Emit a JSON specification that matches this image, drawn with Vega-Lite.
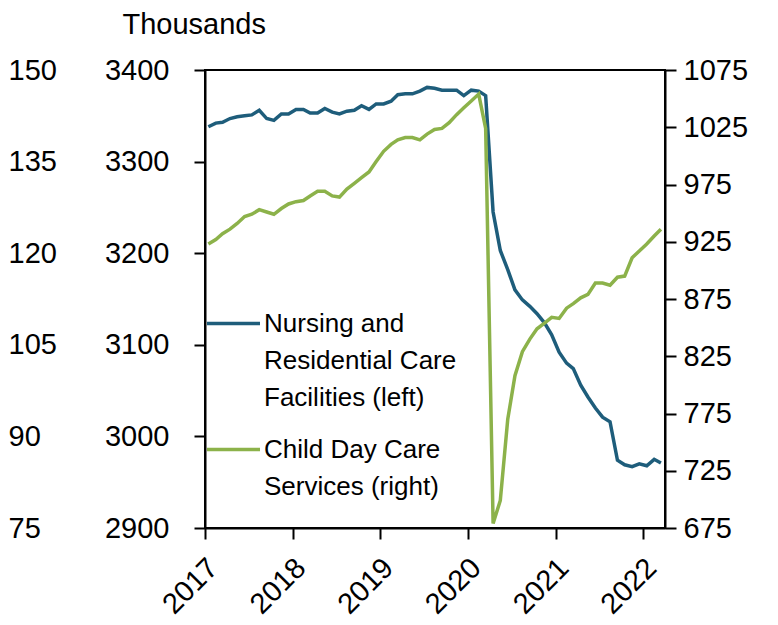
{
  "$schema": "https://vega.github.io/schema/vega-lite/v6.json",
  "width": 460,
  "height": 458,
  "autosize": {"type": "none"},
  "padding": {"left": 205, "top": 70, "right": 113, "bottom": 97},
  "background": "white",
  "config": {
    "font": "Liberation Sans",
    "view": {"stroke": "black", "strokeWidth": 2},
    "axis": {
      "labelFont": "Liberation Sans",
      "labelFontSize": 29,
      "labelColor": "black",
      "domainColor": "black",
      "tickColor": "black",
      "domainWidth": 2,
      "tickWidth": 2,
      "tickSize": 11,
      "grid": false,
      "labelOverlap": false,
      "labelFlush": false
    }
  },
  "data": {
    "values": [
      {"date": "2017-01-15", "nursing": 3338, "childcare": 923},
      {"date": "2017-02-15", "nursing": 3342, "childcare": 927},
      {"date": "2017-03-15", "nursing": 3343, "childcare": 932},
      {"date": "2017-04-15", "nursing": 3347, "childcare": 936},
      {"date": "2017-05-15", "nursing": 3349, "childcare": 941},
      {"date": "2017-06-15", "nursing": 3350, "childcare": 947},
      {"date": "2017-07-15", "nursing": 3351, "childcare": 949},
      {"date": "2017-08-15", "nursing": 3356, "childcare": 953},
      {"date": "2017-09-15", "nursing": 3347, "childcare": 951},
      {"date": "2017-10-15", "nursing": 3345, "childcare": 949},
      {"date": "2017-11-15", "nursing": 3352, "childcare": 954},
      {"date": "2017-12-15", "nursing": 3352, "childcare": 958},
      {"date": "2018-01-15", "nursing": 3357, "childcare": 960},
      {"date": "2018-02-15", "nursing": 3357, "childcare": 961},
      {"date": "2018-03-15", "nursing": 3353, "childcare": 965},
      {"date": "2018-04-15", "nursing": 3353, "childcare": 969},
      {"date": "2018-05-15", "nursing": 3358, "childcare": 969},
      {"date": "2018-06-15", "nursing": 3354, "childcare": 965},
      {"date": "2018-07-15", "nursing": 3352, "childcare": 964},
      {"date": "2018-08-15", "nursing": 3355, "childcare": 971},
      {"date": "2018-09-15", "nursing": 3356, "childcare": 976},
      {"date": "2018-10-15", "nursing": 3361, "childcare": 981},
      {"date": "2018-11-15", "nursing": 3357, "childcare": 986},
      {"date": "2018-12-15", "nursing": 3363, "childcare": 995},
      {"date": "2019-01-15", "nursing": 3363, "childcare": 1004},
      {"date": "2019-02-15", "nursing": 3366, "childcare": 1010},
      {"date": "2019-03-15", "nursing": 3373, "childcare": 1014},
      {"date": "2019-04-15", "nursing": 3374, "childcare": 1016},
      {"date": "2019-05-15", "nursing": 3374, "childcare": 1016},
      {"date": "2019-06-15", "nursing": 3377, "childcare": 1014},
      {"date": "2019-07-15", "nursing": 3381, "childcare": 1019},
      {"date": "2019-08-15", "nursing": 3380, "childcare": 1023},
      {"date": "2019-09-15", "nursing": 3378, "childcare": 1024},
      {"date": "2019-10-15", "nursing": 3378, "childcare": 1029},
      {"date": "2019-11-15", "nursing": 3378, "childcare": 1036},
      {"date": "2019-12-15", "nursing": 3372, "childcare": 1042},
      {"date": "2020-01-15", "nursing": 3378, "childcare": 1048},
      {"date": "2020-02-15", "nursing": 3377, "childcare": 1054},
      {"date": "2020-03-15", "nursing": 3372, "childcare": 1024},
      {"date": "2020-04-15", "nursing": 3245, "childcare": 679},
      {"date": "2020-05-15", "nursing": 3203, "childcare": 699},
      {"date": "2020-06-15", "nursing": 3182, "childcare": 770},
      {"date": "2020-07-15", "nursing": 3160, "childcare": 808},
      {"date": "2020-08-15", "nursing": 3149, "childcare": 829},
      {"date": "2020-09-15", "nursing": 3142, "childcare": 840},
      {"date": "2020-10-15", "nursing": 3134, "childcare": 849},
      {"date": "2020-11-15", "nursing": 3124, "childcare": 854},
      {"date": "2020-12-15", "nursing": 3111, "childcare": 859},
      {"date": "2021-01-15", "nursing": 3092, "childcare": 858},
      {"date": "2021-02-15", "nursing": 3080, "childcare": 867},
      {"date": "2021-03-15", "nursing": 3074, "childcare": 871},
      {"date": "2021-04-15", "nursing": 3056, "childcare": 876},
      {"date": "2021-05-15", "nursing": 3043, "childcare": 879},
      {"date": "2021-06-15", "nursing": 3031, "childcare": 889},
      {"date": "2021-07-15", "nursing": 3021, "childcare": 889},
      {"date": "2021-08-15", "nursing": 3016, "childcare": 887},
      {"date": "2021-09-15", "nursing": 2974, "childcare": 894},
      {"date": "2021-10-15", "nursing": 2969, "childcare": 895},
      {"date": "2021-11-15", "nursing": 2967, "childcare": 911},
      {"date": "2021-12-15", "nursing": 2970, "childcare": 917},
      {"date": "2022-01-15", "nursing": 2968, "childcare": 923},
      {"date": "2022-02-15", "nursing": 2975, "childcare": 930},
      {"date": "2022-03-15", "nursing": 2971, "childcare": 936}
    ]
  },
  "encoding": {
    "x": {
      "field": "date",
      "type": "temporal",
      "scale": {
        "type": "utc",
        "domain": [
          {"year": 2017, "month": 1, "date": 1, "utc": true},
          {"year": 2022, "month": 4, "date": 1, "utc": true}
        ]
      },
      "axis": {
        "title": null,
        "format": "%Y",
        "labelAngle": -45,
        "labelPadding": 14,
        "labelOffset": -2,
        "values": [
          {"year": 2017, "month": 1, "date": 1, "utc": true},
          {"year": 2018, "month": 1, "date": 1, "utc": true},
          {"year": 2019, "month": 1, "date": 1, "utc": true},
          {"year": 2020, "month": 1, "date": 1, "utc": true},
          {"year": 2021, "month": 1, "date": 1, "utc": true},
          {"year": 2022, "month": 1, "date": 1, "utc": true}
        ]
      }
    }
  },
  "layer": [
    {
      "mark": {"type": "line", "strokeWidth": 3.5, "clip": true},
      "encoding": {
        "y": {
          "field": "nursing",
          "type": "quantitative",
          "scale": {"domain": [2900, 3400], "zero": false, "nice": false},
          "axis": {
            "orient": "left",
            "values": [2900, 3000, 3100, 3200, 3300, 3400],
            "format": "d",
            "labelPadding": 25,
            "title": "Thousands",
            "titleAngle": 0,
            "titleAlign": "left",
            "titleBaseline": "alphabetic",
            "titleX": -83,
            "titleY": -37,
            "titleFontSize": 29,
            "titleFontWeight": "normal",
            "titleFont": "Liberation Sans",
            "titleColor": "black"
          }
        },
        "color": {
          "datum": "Nursing and|Residential Care|Facilities (left)",
          "type": "nominal",
          "scale": {
            "domain": ["Nursing and|Residential Care|Facilities (left)", "Child Day Care|Services (right)"],
            "range": ["#1e5d7b", "#8cb24a"]
          },
          "legend": {
            "orient": "none",
            "legendX": 0,
            "legendY": 225,
            "title": null,
            "symbolType": "stroke",
            "symbolSize": 2809,
            "symbolStrokeWidth": 3.5,
            "labelFont": "Liberation Sans",
            "labelFontSize": 26,
            "labelColor": "black",
            "labelLimit": 500,
            "labelOffset": 2,
            "labelExpr": "split(datum.label, '|')",
            "rowPadding": 10,
            "padding": 0,
            "encoding": {"labels": {"lineHeight": {"value": 37}}}
          }
        }
      }
    },
    {
      "mark": {"type": "line", "strokeWidth": 3.5, "clip": true},
      "encoding": {
        "y": {
          "field": "childcare",
          "type": "quantitative",
          "scale": {"domain": [675, 1075], "zero": false, "nice": false},
          "axis": {
            "orient": "right",
            "values": [675, 725, 775, 825, 875, 925, 975, 1025, 1075],
            "format": "d",
            "labelPadding": 7,
            "title": null
          }
        },
        "color": {"datum": "Child Day Care|Services (right)", "type": "nominal"}
      }
    },
    {
      "data": {"values": [{"ref": 75}, {"ref": 150}]},
      "mark": {"type": "point", "opacity": 0},
      "encoding": {
        "x": {"value": 0},
        "y": {
          "field": "ref",
          "type": "quantitative",
          "scale": {"domain": [75, 150], "zero": false, "nice": false},
          "axis": {
            "orient": "left",
            "values": [75, 90, 105, 120, 135, 150],
            "domain": false,
            "ticks": false,
            "tickSize": 0,
            "labelAlign": "left",
            "labelPadding": 197,
            "title": null
          }
        }
      }
    }
  ],
  "resolve": {"scale": {"y": "independent"}}
}
